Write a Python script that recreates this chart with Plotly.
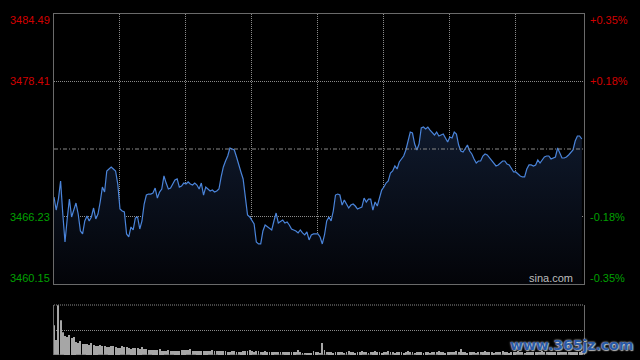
import plotly.graph_objects as go

prev_close = 3472.32
price_ticks = [3484.49, 3478.41, 3466.23, 3460.15]
pct_ticks = ["+0.35%", "+0.18%", "-0.18%", "-0.35%"]

prices = [
    3467.99, 3466.82, 3467.81, 3469.44, 3466.46, 3463.94, 3466.01, 3467.81, 3466.19, 3466.73,
    3467.45, 3466.46, 3464.93, 3464.66, 3465.83, 3466.28, 3465.83, 3466.19, 3467.00, 3466.01,
    3466.46, 3467.54, 3468.89, 3468.44, 3470.34, 3470.52, 3470.70, 3470.52, 3470.34, 3469.16,
    3466.91, 3466.73, 3466.64, 3464.66, 3464.39, 3465.29, 3465.02, 3466.10, 3466.19, 3465.11,
    3465.83, 3467.36, 3468.17, 3468.26, 3468.26, 3468.35, 3468.80, 3467.90, 3468.44, 3468.71,
    3469.89, 3469.25, 3468.71, 3468.80, 3469.16, 3469.53, 3469.62, 3468.89, 3468.98, 3469.25,
    3469.16, 3469.35, 3469.16, 3469.07, 3469.25, 3469.07, 3468.71, 3469.25, 3468.17, 3468.89,
    3468.71, 3468.53, 3468.62, 3468.44, 3468.53, 3468.71, 3469.80, 3470.70, 3471.24, 3471.69,
    3472.41, 3472.32, 3472.23, 3471.60, 3470.79, 3470.25, 3469.62, 3467.81, 3466.37, 3466.19,
    3465.92, 3465.56, 3463.94, 3463.76, 3463.76, 3464.93, 3465.47, 3465.29, 3465.20, 3465.02,
    3465.83, 3466.55, 3465.65, 3465.83, 3465.92, 3465.65, 3465.74, 3465.47, 3465.11, 3465.02,
    3464.93, 3464.75, 3465.02, 3464.75, 3464.57, 3464.84, 3464.12, 3464.57, 3464.66, 3464.66,
    3464.66, 3464.39, 3463.76, 3464.57, 3465.83, 3466.19, 3465.83, 3466.73, 3468.17, 3468.26,
    3468.17, 3467.27, 3467.72, 3467.36, 3467.00, 3467.27, 3467.36, 3467.18, 3466.91, 3467.00,
    3467.09, 3467.90, 3467.54, 3467.81, 3467.81, 3466.82, 3467.54, 3467.18, 3467.99, 3468.62,
    3468.89, 3469.25, 3469.44, 3470.16, 3470.34, 3470.79, 3470.52, 3471.15, 3471.42, 3471.69,
    3472.23, 3472.95, 3473.85, 3473.76, 3472.77, 3472.23, 3472.77, 3474.21, 3474.30, 3474.12,
    3474.30, 3474.03, 3473.76, 3473.58, 3473.85, 3473.49, 3473.58, 3473.67, 3473.31, 3472.95,
    3473.40, 3473.31, 3473.85, 3473.67, 3472.68, 3472.14, 3472.05, 3472.32, 3472.68, 3472.14,
    3471.87, 3471.42, 3471.06, 3471.24, 3471.24, 3471.69, 3471.87, 3471.78, 3471.51, 3471.33,
    3470.97, 3470.79, 3470.88, 3471.06, 3471.24, 3471.24, 3470.97, 3470.88, 3470.61, 3470.25,
    3470.25, 3470.07, 3469.89, 3469.80, 3469.80, 3470.52, 3470.88, 3470.88, 3470.79, 3470.88,
    3471.33, 3471.06, 3471.33, 3471.60, 3471.69, 3471.69, 3471.42, 3471.51, 3471.60, 3472.41,
    3471.87, 3471.51, 3471.51, 3471.60, 3471.78, 3471.96, 3472.23, 3473.04, 3473.49, 3473.49,
    3473.22,
]

volumes = [
    30, 15, 50, 35, 23, 19, 18, 20, 17, 18,
    13, 12, 14, 11, 11, 11, 10, 12, 10, 9,
    9, 10, 9, 9, 8, 8, 9, 9, 8, 7,
    7, 9, 8, 8, 7, 6, 7, 7, 7, 6,
    8, 6, 6, 5, 5, 5, 5, 5, 6, 4,
    4, 4, 5, 4, 4, 4, 4, 4, 5, 5,
    5, 5, 6, 4, 4, 4, 4, 4, 4, 4,
    4, 4, 5, 4, 4, 4, 4, 4, 4, 3,
    3, 4, 4, 3, 3, 3, 4, 4, 4, 5,
    4, 3, 4, 4, 3, 3, 4, 3, 3, 3,
    3, 3, 3, 3, 3, 3, 3, 3, 3, 3,
    3, 5, 3, 2, 2, 2, 2, 2, 4, 3,
    3, 2, 12, 5, 3, 3, 3, 2, 3, 3,
    3, 3, 2, 3, 4, 3, 3, 2, 3, 3,
    4, 3, 3, 2, 3, 3, 4, 3, 3, 2,
    3, 3, 4, 3, 3, 2, 3, 3, 3, 2,
    3, 4, 3, 3, 2, 3, 3, 3, 2, 3,
    3, 2, 3, 3, 3, 4, 3, 3, 2, 3,
    3, 3, 3, 4, 3, 6, 3, 3, 2, 3,
    3, 3, 2, 3, 3, 3, 4, 3, 3, 3,
    2, 3, 3, 3, 4, 3, 3, 2, 3, 3,
    3, 4, 3, 3, 2, 3, 3, 3, 3, 3,
    3, 3, 4, 3, 3, 3, 3, 3, 3, 3,
    3, 3, 3, 3, 3, 3, 3, 3, 3, 3,
    4,
]

minutes = list(range(len(prices)))
grid_minutes = [30, 60, 90, 120, 150, 180, 210]

RED = "#d20000"
GREEN = "#00a000"
FRAME = "#6a6a6a"
GRID = "#8a8a8a"
XD = [54 / 640, 584 / 640]

fig = go.Figure()
fig.add_trace(go.Scatter(
    x=minutes, y=[price_ticks[-1]] * len(minutes), mode="lines",
    line=dict(width=0), hoverinfo="skip", showlegend=False))
fig.add_trace(go.Scatter(
    x=minutes, y=prices, mode="lines",
    line=dict(color="#4a84da", width=1.2),
    fill="tonexty",
    fillgradient=dict(type="vertical",
                      colorscale=[[0, "rgb(3,4,8)"], [1, "rgb(15,25,44)"]],
                      start=price_ticks[-1], stop=max(prices)),
    showlegend=False))
fig.add_trace(go.Bar(
    x=minutes, y=volumes, xaxis="x2", yaxis="y2",
    marker=dict(color="#a6a6a6", line=dict(width=0)), width=0.42,
    showlegend=False))

fig.add_shape(type="line", xref="x domain", x0=0, x1=1, yref="y",
              y0=prev_close, y1=prev_close,
              line=dict(color=GRID, width=1, dash="4px,2px,1px,2px"))
fig.add_shape(type="line", xref="x2 domain", x0=0, x1=1, yref="y2 domain",
              y0=1, y1=1, line=dict(color=GRID, width=1, dash="1px,1px"))
fig.add_shape(type="line", xref="x2 domain", x0=0, x1=1, yref="y2",
              y0=0, y1=0, line=dict(color="#6a6a6a", width=1, dash="10px,12px"))

ann = []
for val, pct in zip(price_ticks, pct_ticks):
    col = RED if val > prev_close else GREEN
    ys = -6 if val == price_ticks[0] else (6 if val == price_ticks[-1] else 0)
    ann.append(dict(x=XD[0], xref="paper", xanchor="right", xshift=-2,
                    y=val, yref="y", yanchor="middle", yshift=ys,
                    text=f"{val:.2f}", showarrow=False,
                    font=dict(family="Liberation Sans, Arial", size=11, color=col)))
    ann.append(dict(x=XD[1], xref="paper", xanchor="left", xshift=4,
                    y=val, yref="y", yanchor="middle", yshift=ys,
                    text=pct, showarrow=False,
                    font=dict(family="Liberation Sans, Arial", size=11, color=col)))
ann.append(dict(x=1, xref="x domain", xanchor="right", xshift=-9,
                y=0, yref="y domain", yanchor="middle", yshift=6,
                text="sina.com", showarrow=False,
                font=dict(family="Liberation Sans, Arial", size=11, color="#bdbdbd")))
ann.append(dict(x=1, xref="paper", xanchor="right", xshift=-5,
                y=15 / 360, yref="paper", yanchor="middle",
                text="<b>www.365jz.com</b>", showarrow=False,
                font=dict(family="DejaVu Sans", size=14, color="#2a5aa6",
                          shadow="0px 0px 2px #ffffff, 1px 1px 1px #999999")))

fig.update_layout(
    width=640, height=360,
    margin=dict(l=0, r=0, t=0, b=0),
    paper_bgcolor="black", plot_bgcolor="black",
    showlegend=False,
    annotations=ann,
    xaxis=dict(domain=XD, range=[0, 241], anchor="y",
               tickvals=grid_minutes, showticklabels=False, ticks="",
               showgrid=True, gridcolor=GRID, griddash="1px,1px", gridwidth=1,
               showline=True, mirror=True, linecolor=FRAME, linewidth=1,
               zeroline=False, fixedrange=True),
    yaxis=dict(domain=[(360 - 284) / 360, (360 - 14) / 360],
               range=[price_ticks[-1], price_ticks[0]], anchor="x",
               tickvals=[price_ticks[1], price_ticks[2]], showticklabels=False, ticks="",
               showgrid=True, gridcolor=GRID, griddash="1px,1px", gridwidth=1,
               showline=True, mirror=True, linecolor=FRAME, linewidth=1,
               zeroline=False, fixedrange=True),
    xaxis2=dict(domain=XD, range=[0, 241], anchor="y2",
                showticklabels=False, ticks="", showgrid=False,
                showline=False, zeroline=False, fixedrange=True),
    yaxis2=dict(domain=[5 / 360, 55 / 360], range=[0, 50.3], anchor="x2",
                tickvals=[25], showticklabels=False, ticks="",
                showgrid=True, gridcolor=GRID, griddash="1px,1px", gridwidth=1,
                showline=True, mirror=True, linecolor=FRAME, linewidth=1,
                zeroline=False, fixedrange=True),
)

fig.write_html(
    "out.html",
    config={"displayModeBar": False},
    post_script="document.body.style.margin='0';document.body.style.background='black';",
)
